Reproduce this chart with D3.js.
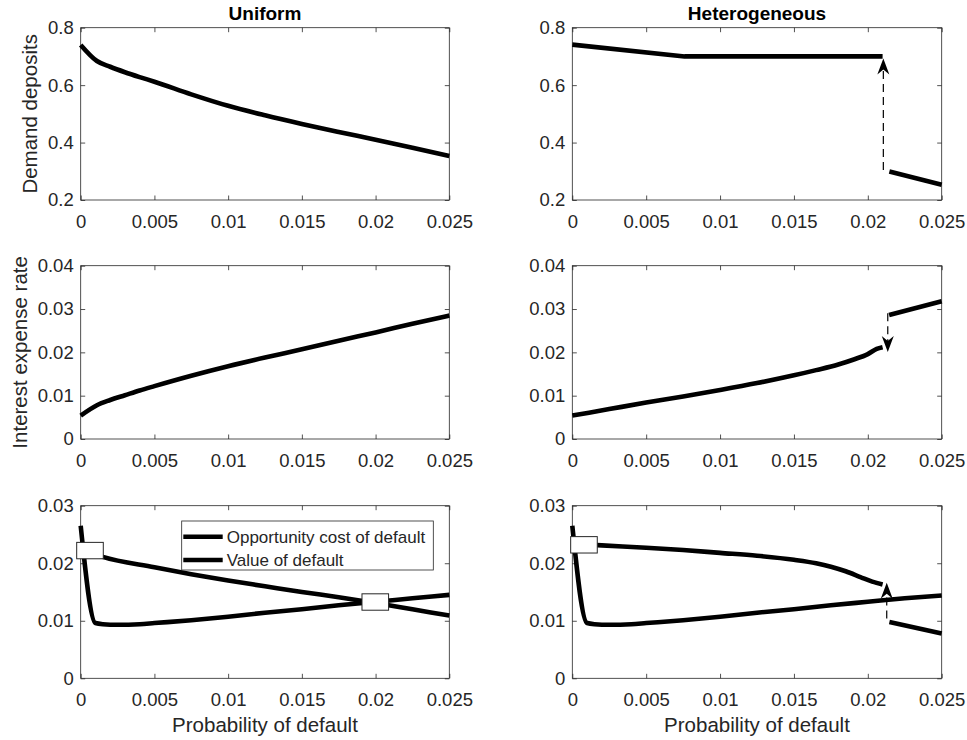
<!DOCTYPE html>
<html lang="en">
<head>
<meta charset="utf-8">
<style>
  body { margin: 0; background: #fff; }
  svg { display: block; font-family: "Liberation Sans", Arial, Helvetica, sans-serif; }
  .tick text { fill: #262626; font-size: 18.5px; }
</style>
<script src="https://cdn.jsdelivr.net/npm/d3@7"></script>
</head>
<body>
<script>
// ---- data ----
const xTicks = [0, 0.005, 0.01, 0.015, 0.02, 0.025];
const xTickLabels = ["0", "0.005", "0.01", "0.015", "0.02", "0.025"];
const depTicks = [0.2, 0.4, 0.6, 0.8];
const rateTicks = [0, 0.01, 0.02, 0.03, 0.04];
const costTicks = [0, 0.01, 0.02, 0.03];

const colTitles = ["Uniform", "Heterogeneous"];
const rowLabels = ["Demand deposits", "Interest expense rate", ""];
const xLabel = "Probability of default";
const legendNames = ["Opportunity cost of default", "Value of default"];

// Uniform: demand deposits
const pdUniDep = [0, 0.0011, 0.002, 0.003, 0.004, 0.005, 0.0075, 0.01, 0.0125, 0.015, 0.0175, 0.02, 0.0225, 0.025];
const depUni   = [0.740, 0.684, 0.664, 0.645, 0.628, 0.612, 0.568, 0.528, 0.495, 0.465, 0.437, 0.410, 0.382, 0.353];

// Heterogeneous: demand deposits (two branches)
const pdHetDepA = [0, 0.0076, 0.021];
const depHetA   = [0.741, 0.700, 0.700];
const pdHetDepB = [0.02146, 0.025];
const depHetB   = [0.299, 0.253];

// Uniform: interest expense rate
const pdUniRate = [0, 0.0011, 0.002, 0.003, 0.004, 0.005, 0.0075, 0.01, 0.0125, 0.015, 0.0175, 0.02, 0.0225, 0.025];
const rateUni   = [0.0054, 0.0078, 0.0090, 0.0101, 0.0112, 0.0122, 0.0146, 0.0168, 0.0188, 0.0207, 0.0227, 0.0246, 0.0266, 0.0285];

// Heterogeneous: interest expense rate (two branches)
const pdHetRateA = [0, 0.0025, 0.005, 0.0075, 0.01, 0.0125, 0.015, 0.0165, 0.018, 0.019, 0.02, 0.0206, 0.021];
const rateHetA   = [0.0054, 0.0069, 0.0084, 0.0098, 0.0113, 0.0129, 0.0147, 0.0159, 0.0172, 0.0183, 0.0196, 0.0208, 0.0212];
const pdHetRateB = [0.02144, 0.025];
const rateHetB   = [0.0286, 0.0318];

// Uniform: opportunity cost / value of default
const pdUniCostA = [0, 0.001, 0.0015, 0.0025, 0.004, 0.005, 0.0075, 0.01, 0.0125, 0.015, 0.0175, 0.02, 0.0225, 0.025];
const costUniA   = [0.0265, 0.0096, 0.0094, 0.0093, 0.0094, 0.0096, 0.0101, 0.0107, 0.0114, 0.0120, 0.0127, 0.0133, 0.0139, 0.0145];
const pdUniCostB = [0, 0.0015, 0.005, 0.0075, 0.01, 0.0125, 0.015, 0.0175, 0.02, 0.0225, 0.025];
const costUniB   = [0.0225, 0.0211, 0.0193, 0.0181, 0.0170, 0.0160, 0.0150, 0.0141, 0.0131, 0.0120, 0.0109];
const crossUniPd  = [0.00063, 0.01998];
const crossUniVal = [0.0222, 0.01326];

// Heterogeneous: opportunity cost / value of default
const pdHetCostA = [0, 0.001, 0.0015, 0.0025, 0.004, 0.005, 0.0075, 0.01, 0.0125, 0.015, 0.0175, 0.02, 0.0225, 0.025];
const costHetA   = [0.0265, 0.0096, 0.0094, 0.0093, 0.0094, 0.0096, 0.0101, 0.0107, 0.0114, 0.0120, 0.0127, 0.0133, 0.0139, 0.0144];
const pdHetCostB = [0, 0.002, 0.005, 0.0075, 0.01, 0.0125, 0.015, 0.0165, 0.0175, 0.0185, 0.0195, 0.0203, 0.021];
const costHetB   = [0.0234, 0.0231, 0.0227, 0.0223, 0.0218, 0.0213, 0.0206, 0.0200, 0.0194, 0.0186, 0.0176, 0.0168, 0.0163];
const pdHetCostC = [0.02146, 0.025];
const costHetC   = [0.0098, 0.0078];
const crossHetPd  = [0.00079];
const crossHetVal = [0.0232];

// jump arrows in the heterogeneous column: [pd, from, to]
const arrowDep  = [0.02105, 0.3045, 0.693];
const arrowRate = [0.02135, 0.0290, 0.0201];
const arrowCost = [0.02128, 0.0104, 0.0166];

// ---- layout ----
const W = 967, H = 740;
const cols = [[80.7, 449.3], [572.3, 941.7]];
const rows = [[27.7, 200], [265.7, 439], [505.7, 678.3]];
const ink = "#262626";
const lw = 4.6;
const tickLen = 4.5;

const svg = d3.select("body").append("svg")
    .attr("width", W)
    .attr("height", H);

const zip = (xs, ys) => xs.map((x, i) => [x, ys[i]]);

function panel(c, r, yDomain, yTicks) {
    const x = d3.scaleLinear().domain([0, 0.025]).range(cols[c]);
    const y = d3.scaleLinear().domain(yDomain).range([rows[r][1], rows[r][0]]);
    const g = svg.append("g");
    const fmt = d => xTickLabels[xTicks.indexOf(d)];

    g.append("g")
        .attr("transform", `translate(0,${rows[r][1]})`)
        .call(d3.axisBottom(x).tickValues(xTicks).tickFormat(fmt).tickSizeInner(-tickLen).tickSizeOuter(0).tickPadding(15));
    g.append("g")
        .attr("transform", `translate(0,${rows[r][0]})`)
        .call(d3.axisTop(x).tickValues(xTicks).tickFormat("").tickSizeInner(-tickLen).tickSizeOuter(0));
    g.append("g")
        .attr("transform", `translate(${cols[c][0]},0)`)
        .call(d3.axisLeft(y).tickValues(yTicks).tickFormat(d3.format("~g")).tickSizeInner(-tickLen).tickSizeOuter(0).tickPadding(7));
    g.append("g")
        .attr("transform", `translate(${cols[c][1]},0)`)
        .call(d3.axisRight(y).tickValues(yTicks).tickFormat("").tickSizeInner(-tickLen).tickSizeOuter(0));

    g.selectAll(".domain").remove();
    g.selectAll(".tick line").attr("stroke", ink).attr("stroke-width", 0.8);

    g.append("rect")
        .attr("x", cols[c][0])
        .attr("y", rows[r][0])
        .attr("width", cols[c][1] - cols[c][0])
        .attr("height", rows[r][1] - rows[r][0])
        .attr("fill", "none")
        .attr("stroke", ink)
        .attr("stroke-width", 0.8);

    return { x, y, g };
}

function curve(p, xs, ys, kind) {
    p.g.append("path")
        .datum(zip(xs, ys))
        .attr("fill", "none")
        .attr("stroke", "#000")
        .attr("stroke-width", lw)
        .attr("stroke-linejoin", "round")
        .attr("d", d3.line().x(d => p.x(d[0])).y(d => p.y(d[1])).curve(kind || d3.curveMonotoneX));
}

function arrow(p, a) {
    const [pd, from, to] = a;
    const xa = p.x(pd), y0 = p.y(from), y1 = p.y(to);
    const dir = y1 < y0 ? 1 : -1;   // 1 = pointing up on screen
    p.g.append("line")
        .attr("x1", xa).attr("x2", xa)
        .attr("y1", y0).attr("y2", y1 + dir * 10)
        .attr("stroke", "#000")
        .attr("stroke-width", 1.2)
        .attr("stroke-dasharray", "8,5");
    const head = [[0, 0], [-6, 16], [0, 11], [6, 16]]
        .map(([u, v]) => [xa + u, y1 + dir * v]);
    p.g.append("path")
        .attr("d", "M" + head.join("L") + "Z")
        .attr("fill", "#000");
}

function markers(p, xs, ys) {
    p.g.selectAll(null)
        .data(zip(xs, ys))
        .join("rect")
        .attr("x", d => p.x(d[0]) - 13.3)
        .attr("y", d => p.y(d[1]) - 8.2)
        .attr("width", 26.6)
        .attr("height", 16.4)
        .attr("fill", "#fff")
        .attr("stroke", ink)
        .attr("stroke-width", 1);
}

// row 1: demand deposits
const p11 = panel(0, 0, [0.2, 0.8], depTicks);
curve(p11, pdUniDep, depUni);
const p12 = panel(1, 0, [0.2, 0.8], depTicks);
curve(p12, pdHetDepA, depHetA, d3.curveLinear);
curve(p12, pdHetDepB, depHetB);
arrow(p12, arrowDep);

// row 2: interest expense rate
const p21 = panel(0, 1, [0, 0.04], rateTicks);
curve(p21, pdUniRate, rateUni);
const p22 = panel(1, 1, [0, 0.04], rateTicks);
curve(p22, pdHetRateA, rateHetA);
curve(p22, pdHetRateB, rateHetB);
arrow(p22, arrowRate);

// row 3: opportunity cost vs value of default
const p31 = panel(0, 2, [0, 0.03], costTicks);
curve(p31, pdUniCostB, costUniB);
curve(p31, pdUniCostA, costUniA);
markers(p31, crossUniPd, crossUniVal);

const p32 = panel(1, 2, [0, 0.03], costTicks);
curve(p32, pdHetCostB, costHetB);
curve(p32, pdHetCostC, costHetC);
curve(p32, pdHetCostA, costHetA);
arrow(p32, arrowCost);
markers(p32, crossHetPd, crossHetVal);

// legend in the bottom-left panel
const lg = svg.append("g")
    .attr("transform", `translate(${cols[0][0] + 101},${rows[2][0] + 15.3})`);
lg.append("rect")
    .attr("width", 251.6)
    .attr("height", 49)
    .attr("fill", "#fff")
    .attr("stroke", ink)
    .attr("stroke-width", 0.8);
legendNames.forEach((name, i) => {
    const yy = 15.7 + i * 23.3;
    lg.append("line")
        .attr("x1", 1.6).attr("x2", 41)
        .attr("y1", yy).attr("y2", yy)
        .attr("stroke", "#000")
        .attr("stroke-width", lw);
    lg.append("text")
        .attr("x", 45)
        .attr("y", yy)
        .attr("dy", "0.35em")
        .attr("fill", ink)
        .style("font-size", "17px")
        .text(name);
});

// titles and axis labels
colTitles.forEach((t, c) => {
    svg.append("text")
        .attr("x", (cols[c][0] + cols[c][1]) / 2)
        .attr("y", 20)
        .attr("text-anchor", "middle")
        .attr("fill", "#000")
        .style("font-size", "19px")
        .style("font-weight", "bold")
        .text(t);
    svg.append("text")
        .attr("x", (cols[c][0] + cols[c][1]) / 2)
        .attr("y", 731.5)
        .attr("text-anchor", "middle")
        .attr("fill", ink)
        .style("font-size", "20.5px")
        .text(xLabel);
});

const labelX = [36.5, 26.5];
rowLabels.forEach((t, r) => {
    if (!t) return;
    const cy = (rows[r][0] + rows[r][1]) / 2;
    svg.append("text")
        .attr("transform", `translate(${labelX[r]},${cy}) rotate(-90)`)
        .attr("text-anchor", "middle")
        .attr("fill", ink)
        .style("font-size", "20.5px")
        .text(t);
});
</script>
</body>
</html>
